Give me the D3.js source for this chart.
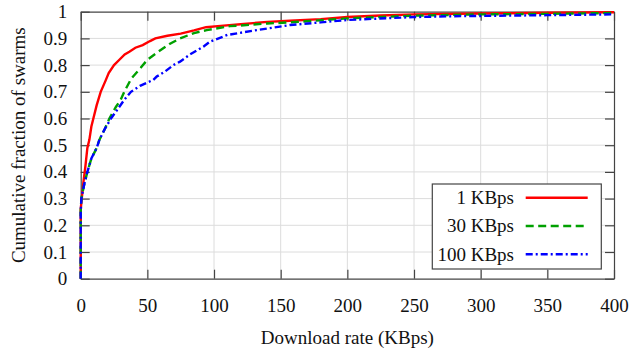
<!DOCTYPE html>
<html><head><meta charset="utf-8">
<script src="https://cdn.jsdelivr.net/npm/d3@7"></script>
<style>body{margin:0;background:#fff}svg{display:block}svg text{font-family:'Liberation Serif','Times New Roman',serif !important;fill:#111}</style>
</head><body><svg id="c" width="640" height="355"></svg>
<script>
// Data
const seriesNames = ["1 KBps", "30 KBps", "100 KBps"];
const xTicks = [0, 50, 100, 150, 200, 250, 300, 350, 400];
const yTicks = [0, 0.1, 0.2, 0.3, 0.4, 0.5, 0.6, 0.7, 0.8, 0.9, 1];

const rate1 = [0, 0, 0.8, 2, 3.5, 5, 6.5, 8, 9.5, 12, 15, 18.5, 21, 25, 29, 33, 36.5, 41, 46.5, 52, 56, 65, 75, 85, 94, 105, 120, 140, 157, 180, 200, 225, 250, 300, 350, 400];
const frac1 = [0, 0.26, 0.30, 0.36, 0.42, 0.49, 0.52, 0.57, 0.60, 0.65, 0.70, 0.74, 0.77, 0.80, 0.82, 0.84, 0.85, 0.865, 0.875, 0.89, 0.90, 0.91, 0.918, 0.93, 0.942, 0.947, 0.953, 0.962, 0.966, 0.972, 0.98, 0.986, 0.99, 0.993, 0.996, 0.998];

const rate30 = [0, 0, 0.5, 2.5, 5, 8, 12, 14, 18, 21.5, 26.5, 30, 32.7, 38, 45, 50, 57, 67, 74.5, 85, 94.5, 112, 120, 140, 157, 180, 200, 250, 300, 350, 400];
const frac30 = [0, 0.25, 0.30, 0.35, 0.40, 0.45, 0.49, 0.52, 0.56, 0.60, 0.644, 0.67, 0.70, 0.75, 0.79, 0.82, 0.846, 0.88, 0.90, 0.92, 0.931, 0.946, 0.948, 0.956, 0.96, 0.968, 0.975, 0.985, 0.99, 0.992, 0.995];

const rate100 = [0, 0, 0.5, 2.5, 5, 8, 12, 14, 18, 22.7, 27, 32.7, 37.7, 44.5, 54.5, 57, 63, 69.5, 74.5, 82, 92, 97, 110, 132, 157, 180, 200, 250, 280, 350, 400];
const frac100 = [0, 0.25, 0.30, 0.35, 0.40, 0.45, 0.49, 0.52, 0.56, 0.60, 0.63, 0.67, 0.70, 0.722, 0.745, 0.757, 0.775, 0.80, 0.813, 0.84, 0.869, 0.888, 0.913, 0.931, 0.95, 0.96, 0.969, 0.98, 0.983, 0.987, 0.99];

const seriesData = [
  rate1.map((r, i) => [r, frac1[i]]),
  rate30.map((r, i) => [r, frac30[i]]),
  rate100.map((r, i) => [r, frac100[i]])
];
const colors = ["#ff0000", "#00a000", "#0000ff"];
const dashes = [null, "8,4.5", "7,3,2,3"];
const FONT = "'Liberation Serif','Times New Roman',serif";

const svg = d3.select("#c");
const L = 80.7, R = 614, T = 11.7, B = 278.7;
const x = d3.scaleLinear().domain([0, 400]).range([L, R]);
const y = d3.scaleLinear().domain([0, 1]).range([B, T]);

// grid
const g = svg.append("g");
g.selectAll(".gx").data(xTicks.slice(1, -1)).join("line")
  .attr("x1", d => x(d)).attr("x2", d => x(d)).attr("y1", T).attr("y2", B)
  .attr("stroke", "#dcdcdc").attr("stroke-width", 1);
g.selectAll(".gy").data(yTicks.slice(1, -1)).join("line")
  .attr("y1", d => y(d)).attr("y2", d => y(d)).attr("x1", L).attr("x2", R)
  .attr("stroke", "#dcdcdc").attr("stroke-width", 1);

// axes using d3 axis with inward ticks
const fmtY = d => d === 0 ? "0" : d === 1 ? "1" : d3.format(".1f")(d);
const axB = svg.append("g").attr("transform", `translate(0,${B})`)
  .call(d3.axisBottom(x).tickValues(xTicks).tickSizeInner(-9).tickSizeOuter(0).tickPadding(20).tickFormat(d3.format("d")));
const axL = svg.append("g").attr("transform", `translate(${L},0)`)
  .call(d3.axisLeft(y).tickValues(yTicks).tickSizeInner(-9).tickSizeOuter(0).tickPadding(13.5).tickFormat(fmtY));
const axT = svg.append("g").attr("transform", `translate(0,${T})`)
  .call(d3.axisTop(x).tickValues(xTicks).tickSizeInner(-9).tickSizeOuter(0).tickFormat(""));
const axR = svg.append("g").attr("transform", `translate(${R},0)`)
  .call(d3.axisRight(y).tickValues(yTicks).tickSizeInner(-9).tickSizeOuter(0).tickFormat(""));
[axB, axL, axT, axR].forEach(a => {
  a.attr("font-family", FONT).attr("font-size", 19);
  a.select(".domain").attr("stroke", "#444").attr("stroke-width", 1.2);
  a.selectAll(".tick line").attr("stroke", "#444").attr("stroke-width", 1.2);
  a.selectAll("text").attr("font-size", 19).attr("font-family", FONT).attr("fill", "#111");
});

// lines
const line = d3.line().x(d => x(d[0])).y(d => y(d[1]));
svg.append("clipPath").attr("id", "pc").append("rect")
  .attr("x", L - 2).attr("y", T - 2).attr("width", R - L + 4).attr("height", B - T + 4);
seriesData.forEach((s, i) => {
  svg.append("path").datum(s).attr("d", line).attr("fill", "none")
    .attr("stroke", colors[i]).attr("stroke-width", 2.4)
    .attr("stroke-dasharray", dashes[i]).attr("clip-path", "url(#pc)");
});

// legend
const lg = svg.append("g").attr("font-family", FONT);
lg.append("rect").attr("x", 432.3).attr("y", 184).attr("width", 169).attr("height", 85)
  .attr("fill", "#fff").attr("stroke", "#444").attr("stroke-width", 1.2);
const ly = [197.7, 226, 254.3];
seriesNames.forEach((n, i) => {
  lg.append("text").attr("x", 514).attr("y", ly[i]).attr("dy", "0.33em")
    .attr("text-anchor", "end").attr("font-size", 19).text(n);
  lg.append("line").attr("x1", 525.7).attr("x2", 587.7).attr("y1", ly[i]).attr("y2", ly[i])
    .attr("stroke", colors[i]).attr("stroke-width", 2.4).attr("stroke-dasharray", dashes[i]);
});

// axis titles
svg.append("text").attr("x", (L + R) / 2).attr("y", 344).attr("text-anchor", "middle")
  .attr("font-family", FONT).attr("font-size", 19).text("Download rate (KBps)");
svg.append("text").attr("transform", `translate(24.5,${(T + B) / 2}) rotate(-90)`)
  .attr("font-family", FONT).attr("text-anchor", "middle").attr("font-size", 19).text("Cumulative fraction of swarms");
</script></body></html>
